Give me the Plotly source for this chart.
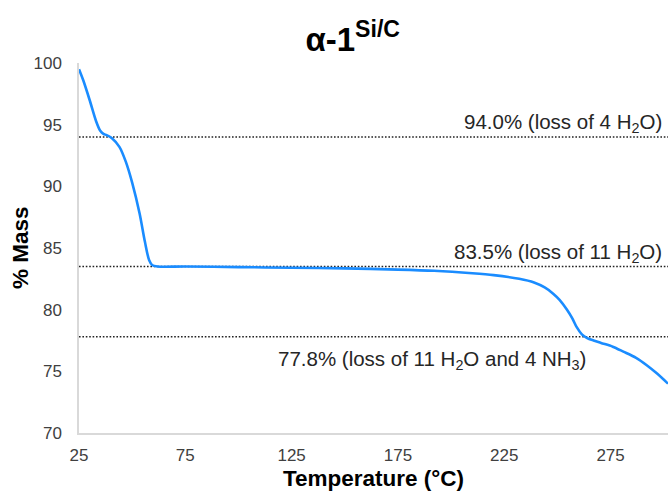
import plotly.graph_objects as go

# Data
temperature = [25, 27, 30, 33, 35, 36.5, 38, 40.5, 44, 47, 50, 53.5, 56, 58, 59.5, 62,
               75, 100, 125, 150, 175, 192, 210, 220, 232, 239, 244, 248, 251, 254.5,
               257, 259, 261.5, 264, 267, 270.5, 276, 281, 287, 292, 297, 302]
mass = [99.5, 98.6, 97.0, 95.3, 94.5, 94.25, 94.15, 93.9, 93.2, 92.0, 90.3, 87.8, 85.5, 84.0, 83.6, 83.5,
        83.5, 83.45, 83.4, 83.35, 83.25, 83.15, 82.95, 82.8, 82.5, 82.2, 81.8, 81.3, 80.8, 80.0,
        79.3, 78.6, 78.0, 77.7, 77.5, 77.3, 77.0, 76.6, 76.1, 75.5, 74.8, 74.0]

ref_levels = [94.0, 83.5, 77.8]
ref_labels = ["94.0% (loss of 4 H<sub>2</sub>O)",
              "83.5% (loss of 11 H<sub>2</sub>O)",
              "77.8% (loss of 11 H<sub>2</sub>O and 4 NH<sub>3</sub>)"]
x_ticks = [25, 75, 125, 175, 225, 275]
y_ticks = [70, 75, 80, 85, 90, 95, 100]
x_range = [25, 302]
y_range = [70, 100]

FONT = "Liberation Sans, Arial, sans-serif"
ANN = dict(family=FONT, size=20.5, color="#262626")

fig = go.Figure()

for lvl in ref_levels:
    fig.add_trace(go.Scatter(x=x_range, y=[lvl, lvl], mode="lines",
                             line=dict(color="#222222", width=1.6, dash="1.6px,1.8px"),
                             showlegend=False, hoverinfo="skip"))

fig.add_trace(go.Scatter(x=temperature, y=mass, mode="lines",
                         line=dict(color="#1a8cff", width=2.6, shape="spline", smoothing=0.8),
                         showlegend=False))

fig.add_annotation(x=x_range[1], y=ref_levels[0], text=ref_labels[0], showarrow=False,
                   xanchor="right", yanchor="bottom", xshift=-4, yshift=-1, font=ANN)
fig.add_annotation(x=x_range[1], y=ref_levels[1], text=ref_labels[1], showarrow=False,
                   xanchor="right", yanchor="bottom", xshift=-4, yshift=-1, font=ANN)
fig.add_annotation(x=191, y=ref_levels[2], text=ref_labels[2], showarrow=False,
                   xanchor="center", yanchor="top", xshift=0, yshift=-8, font=ANN)

# y-axis title as rotated annotation
fig.add_annotation(xref="paper", yref="paper", x=-0.100, y=0.5, text="<b>% Mass</b>",
                   textangle=-90, showarrow=False, xanchor="center", yanchor="middle",
                   font=dict(family=FONT, size=22.5, color="#000000"))

fig.update_layout(
    width=668, height=491,
    margin=dict(l=79, r=0, t=63, b=58),
    paper_bgcolor="white", plot_bgcolor="white",
    title=dict(text="<b>α-1<sup>Si/C</sup></b>", x=0.528, xanchor="center",
               y=0.92, yanchor="middle",
               font=dict(family=FONT, size=33, color="#000000")),
    font=dict(family=FONT, color="#404040"),
)
fig.update_xaxes(range=x_range, tickvals=x_ticks, ticks="outside", ticklen=6,
                 tickcolor="rgba(0,0,0,0)", showgrid=False, zeroline=False,
                 showline=True, linecolor="#d9d9d9", linewidth=1.5,
                 tickfont=dict(family=FONT, size=17, color="#404040"),
                 title=dict(text="<b>Temperature (°C)</b>", standoff=9,
                            font=dict(family=FONT, size=22.5, color="#000000")))
fig.update_yaxes(range=y_range, tickvals=y_ticks, ticks="outside", ticklen=12,
                 tickcolor="rgba(0,0,0,0)", showgrid=False, zeroline=False,
                 showline=True, linecolor="#d9d9d9", linewidth=1.5,
                 tickfont=dict(family=FONT, size=17, color="#404040"))

fig.write_html("out.html")
